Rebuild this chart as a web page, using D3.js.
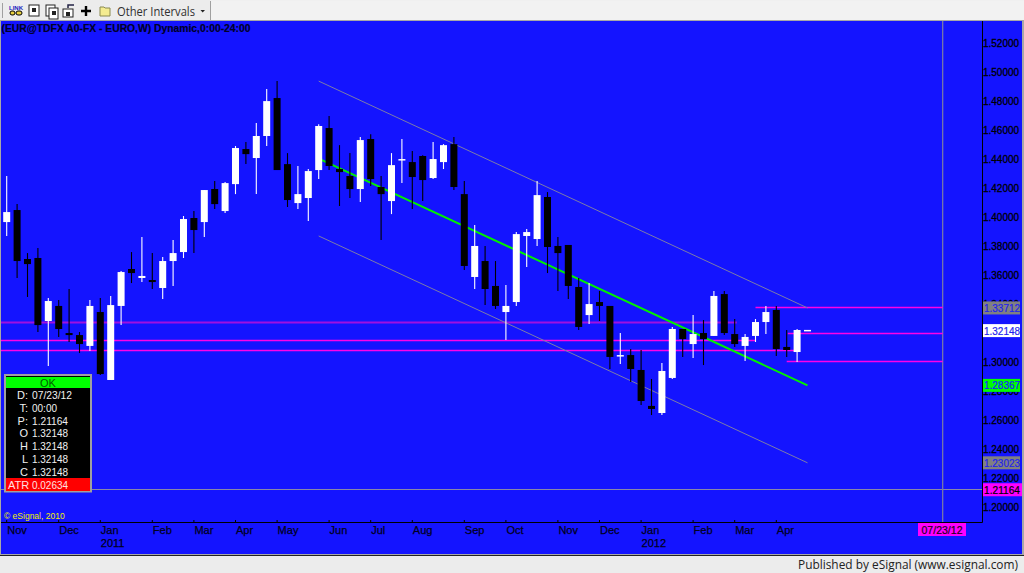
<!DOCTYPE html>
<html><head><meta charset="utf-8">
<script src="https://cdn.jsdelivr.net/npm/d3@7"></script>
<style>html,body{margin:0;padding:0;background:#f0f0f0;overflow:hidden}svg{display:block}text{font-family:"Liberation Sans",Arial,sans-serif}</style>
</head><body><svg id="c" width="1024" height="573"></svg>
<script>
// candle values, one entry per week
const opens=[1.3964,1.4047,1.3709,1.3716,1.3281,1.3385,1.3198,1.3184,1.3109,1.3343,1.2874,1.3385,1.3640,1.3578,1.3564,1.3509,1.3695,1.3757,1.3992,1.3964,1.4192,1.4040,1.4226,1.4468,1.4406,1.4558,1.4820,1.4364,1.4095,1.4130,1.4323,1.4613,1.4330,1.4282,1.4192,1.4537,1.4206,1.4109,1.4392,1.4378,1.4420,1.4268,1.4378,1.4502,1.4157,1.3585,1.3695,1.3523,1.3343,1.3412,1.3868,1.3847,1.4137,1.3799,1.3806,1.3516,1.3322,1.3412,1.3385,1.3040,1.3046,1.2943,1.2695,1.2646,1.2888,1.3226,1.3122,1.3198,1.3178,1.3467,1.3191,1.3109,1.3178,1.3274,1.3357,1.3102,1.3067,1.32148];
const highs=[1.4282,1.4088,1.3750,1.3785,1.3440,1.3426,1.3502,1.3205,1.3426,1.3440,1.3454,1.3626,1.3757,1.3861,1.3750,1.3723,1.3840,1.4006,1.4040,1.4185,1.4247,1.4240,1.4489,1.4516,1.4647,1.4882,1.4937,1.4440,1.4351,1.4330,1.4640,1.4696,1.4495,1.4440,1.4551,1.4571,1.4282,1.4440,1.4537,1.4454,1.4426,1.4516,1.4502,1.4551,1.4247,1.3943,1.3799,1.3695,1.3529,1.3895,1.3916,1.4247,1.4171,1.3861,1.3806,1.3578,1.3543,1.3488,1.3385,1.3198,1.3088,1.3081,1.2881,1.2991,1.3240,1.3226,1.3322,1.3288,1.3488,1.3488,1.3295,1.3191,1.3295,1.3385,1.3385,1.3219,1.3226,1.32148];
const lows=[1.3868,1.3578,1.3447,1.3205,1.2971,1.3171,1.3136,1.3060,1.3074,1.2908,1.2874,1.3253,1.3543,1.3550,1.3502,1.3433,1.3523,1.3716,1.3750,1.3861,1.4054,1.4026,1.4157,1.4364,1.4157,1.4489,1.4323,1.4068,1.4054,1.3971,1.4261,1.4323,1.4075,1.4130,1.4102,1.4213,1.3840,1.4019,1.4233,1.4054,1.4109,1.4261,1.4330,1.4185,1.3633,1.3502,1.3391,1.3364,1.3150,1.3385,1.3654,1.3799,1.3612,1.3488,1.3433,1.3219,1.3260,1.3281,1.2950,1.2984,1.2860,1.2701,1.2632,1.2632,1.2881,1.3033,1.3026,1.2977,1.3178,1.3184,1.3102,1.3005,1.3136,1.3191,1.3040,1.3033,1.2998,1.32148];
const closes=[1.4033,1.3695,1.3674,1.3253,1.3419,1.3226,1.3184,1.3122,1.3385,1.2915,1.3391,1.3619,1.3612,1.3592,1.3550,1.3695,1.3750,1.3985,1.3909,1.4185,1.4088,1.4233,1.4475,1.4433,1.4558,1.4799,1.4323,1.4116,1.4157,1.4316,1.4627,1.4351,1.4309,1.4192,1.4530,1.4261,1.4157,1.4357,1.4399,1.4275,1.4254,1.4399,1.4495,1.4206,1.3661,1.3799,1.3502,1.3385,1.3385,1.3881,1.3895,1.4150,1.3792,1.3750,1.3523,1.3240,1.3398,1.3385,1.3033,1.3046,1.2950,1.2729,1.2674,1.2936,1.3226,1.3157,1.3191,1.3157,1.3454,1.3198,1.3122,1.3171,1.3274,1.3343,1.3088,1.3081,1.3219,1.32148];
const monthLabels=["Nov","Dec","Jan","Feb","Mar","Apr","May","Jun","Jul","Aug","Sep","Oct","Nov","Dec","Jan","Feb","Mar","Apr"];
const monthIndex=[0,5,9,14,18,22,26,31,35,39,44,48,53,57,61,66,70,74];
const yearLabels=["2011","2012"];
const yearIndex=[9,61];
const priceTicks=[1.52,1.50,1.48,1.46,1.44,1.42,1.40,1.38,1.36,1.34,1.30,1.28,1.26,1.24,1.22,1.20];
// horizontal levels: price, first and last week index
const levelPrice=[1.3274,1.3145,1.3076,1.33712,1.3196,1.30];
const levelFrom=[-1,-1,-1,72,75.1,75];
const levelTo=[70.2,72,76,90,90,90];
const channelFrom=[30,77];
const channelUpper=[1.4937,1.33712];
const channelLower=[1.3868,1.23023];
const channelMid=[1.44025,1.28367];
const cursorPrice=1.21164, cursorIndex=90;
const infoKeys=["D:","T:","P:","O","H","L","C"];
const infoValues=["07/23/12","00:00","1.21164","1.32148","1.32148","1.32148","1.32148"];
const flagValues=["1.33712","1.32148","1.28367","1.23023","1.21164"];
const flagFills=["#808080","#ffffff","#00ff00","#808080","#ff00ff"];
const flagInk=["#2222ee","#2222ee","#1a1aff","#2222ee","#000000"];

const BLUE="#1414ff";
const svg=d3.select("#c");
const x=d3.scaleLinear().domain([0,77]).range([6.7,807.5]);
const y=d3.scaleLinear().domain([1.20,1.52]).range([506.6,43]);
const R=982,T=21,B=522;
const snap=v=>Math.floor(v)+.5;

// window chrome
svg.append("rect").attr("width",1024).attr("height",573).attr("fill","#f0f0f0");
svg.append("rect").attr("x",0).attr("y",20).attr("width",1024).attr("height",536).attr("fill","#a8a8a8");
svg.append("rect").attr("x",1).attr("y",21).attr("width",1021).attr("height",533).attr("fill",BLUE);
svg.append("rect").attr("x",0).attr("y",556).attr("width",1024).attr("height",17).attr("fill","#ececec");
svg.append("rect").attr("x",0).attr("y",555).attr("width",1024).attr("height",1).attr("fill","#222");
svg.append("rect").attr("x",0).attr("y",0).attr("width",210).attr("height",20).attr("fill","#ececec");
svg.append("rect").attr("x",210).attr("y",1).attr("width",1).attr("height",19).attr("fill","#a0a0a0");
svg.append("rect").attr("x",211).attr("y",1).attr("width",813).attr("height",19).attr("fill","#f2f2f2");
svg.append("rect").attr("x",2).attr("y",3).attr("width",1).attr("height",15).attr("fill","#a0a0a0");
// toolbar glyphs
const tb=svg.append("g");
tb.append("text").attr("x",9).attr("y",10).attr("font-size",6).attr("font-weight","bold").attr("fill","#2020c0").text("LINK");
tb.append("rect").attr("x",10).attr("y",11).attr("width",5).attr("height",4).attr("rx",2).attr("fill","#e8d040").attr("stroke","#000");
tb.append("rect").attr("x",16).attr("y",11).attr("width",6).attr("height",4).attr("rx",2).attr("fill","#e8d040").attr("stroke","#000");
[[29,5,10,11],[46,5,9,11],[49,8,9,11],[63,9,10,8]].forEach(d=>{
  tb.append("rect").attr("x",d[0]).attr("y",d[1]).attr("width",d[2]).attr("height",d[3]).attr("fill","#fff").attr("stroke","#222");
  tb.append("rect").attr("x",d[0]+3).attr("y",d[1]+3).attr("width",4).attr("height",4).attr("fill","#222");
});
tb.append("path").attr("d","M68 8V5H74").attr("fill","none").attr("stroke","#224").attr("stroke-width",1.5);
tb.append("path").attr("d","M86 6V16M81 11H91").attr("stroke","#000").attr("stroke-width",2.4);
tb.append("path").attr("d","M100 16V7H104L105 8H110V16Z").attr("fill","#f4ec90").attr("stroke","#8a8a50");
tb.append("text").attr("x",117).attr("y",15.5).attr("font-size",12.5).style("font-family","'Open Sans','Noto Sans',sans-serif").attr("fill","#303030").attr("textLength",78).attr("lengthAdjust","spacingAndGlyphs").text("Other Intervals");
tb.append("path").attr("d","M200.5 10H205L202.7 12.5Z").attr("fill","#222");

// title
svg.append("text").attr("x",1.5).attr("y",32).attr("font-size",11).attr("font-weight","bold").attr("fill","#000028").attr("stroke","#000028").attr("stroke-width",0.2).attr("textLength",249).attr("lengthAdjust","spacingAndGlyphs").text("(EUR@TDFX A0-FX - EURO,W) Dynamic,0:00-24:00");

// cursor cross-hair
svg.append("line").attr("x1",1).attr("x2",R).attr("y1",snap(y(cursorPrice))).attr("y2",snap(y(cursorPrice))).attr("stroke","#8888a8").attr("stroke-width",1);
svg.append("line").attr("x1",x(cursorIndex)).attr("x2",x(cursorIndex)).attr("y1",T).attr("y2",B).attr("stroke","#8080a0").attr("stroke-width",1.2);

// levels
levelPrice.forEach((p,i)=>{
  svg.append("line").attr("x1",Math.max(1,x(levelFrom[i]))).attr("x2",Math.min(R,x(levelTo[i]))).attr("y1",snap(y(p))).attr("y2",snap(y(p)))
    .attr("stroke",i===0?"#a010e0":"#ff00e8").attr("stroke-width",i===0?2:1.4);
});

// channel
const line=d3.line().x((d,i)=>x(channelFrom[i])).y(d=>y(d));
[channelUpper,channelLower].forEach(a=>svg.append("path").attr("d",line(a)).attr("fill","none").attr("stroke","#7c7ca8").attr("stroke-width",1));
svg.append("path").attr("d",line(channelMid)).attr("fill","none").attr("stroke","#00f000").attr("stroke-width",2);

// candles
const idx=d3.range(opens.length);
const bw=7;
const g=svg.append("g");
g.selectAll("line").data(idx.slice(0,-1)).join("line")
  .attr("x1",i=>x(i)).attr("x2",i=>x(i)).attr("y1",i=>y(highs[i])).attr("y2",i=>y(lows[i]))
  .attr("stroke",i=>closes[i]>=opens[i]?"#fff":"#000").attr("stroke-width",1.1);
g.selectAll("rect").data(idx.slice(0,-1)).join("rect")
  .attr("x",i=>x(i)-bw/2).attr("width",bw)
  .attr("y",i=>y(Math.max(opens[i],closes[i])))
  .attr("height",i=>Math.max(1.5,Math.abs(y(opens[i])-y(closes[i]))))
  .attr("fill",i=>closes[i]>=opens[i]?"#fff":"#000");
// the forming bar
const last=opens.length-1;
g.append("rect").attr("x",x(last)-3.5).attr("y",y(closes[last])-0.7).attr("width",7).attr("height",1.5).attr("fill","#fff");

// axes
const yAx=d3.axisRight(y).tickValues(priceTicks).tickSize(0).tickPadding(1).tickFormat(d3.format(".5f"));
const ya=svg.append("g").attr("transform",`translate(${R},0)`).call(yAx);
ya.select(".domain").remove();
ya.selectAll("text").attr("font-size",11).attr("fill","#000").attr("font-family",null).attr("textLength",36).attr("lengthAdjust","spacingAndGlyphs").attr("stroke","#000").attr("stroke-width",0.3);
svg.append("path").attr("d",`M${R+.5} ${T}V${B+.5}H1`).attr("fill","none").attr("stroke","#000");

const xAx=d3.axisBottom(x).tickValues(monthIndex).tickSize(0).tickPadding(0).tickFormat((d,i)=>monthLabels[i]);
const xa=svg.append("g").attr("transform",`translate(0,${B})`).call(xAx);
xa.select(".domain").remove();
xa.selectAll("text").attr("text-anchor","start").attr("dy",null).attr("y",12).attr("font-size",11).attr("fill","#000020").attr("stroke","#000020").attr("stroke-width",0.25).attr("font-family",null);
const xAy=d3.axisBottom(x).tickValues(yearIndex).tickSize(0).tickFormat((d,i)=>yearLabels[i]);
const xb=svg.append("g").attr("transform",`translate(0,${B})`).call(xAy);
xb.select(".domain").remove();
xb.selectAll("text").attr("text-anchor","start").attr("dy",null).attr("y",25).attr("font-size",11).attr("fill","#000020").attr("stroke","#000020").attr("stroke-width",0.25).attr("font-family",null);
monthIndex.forEach(i=>svg.append("line").attr("x1",x(i)).attr("x2",x(i)).attr("y1",B-2).attr("y2",B).attr("stroke","#000"));

// right-hand price flags
const flagY=[y(1.33712),y(1.32148),y(1.28367),y(1.23023),y(1.21164)];
flagValues.forEach((v,i)=>{
  svg.append("rect").attr("x",R+1).attr("y",flagY[i]-6.5).attr("width",i===4?39:37).attr("height",13).attr("fill",flagFills[i]);
  svg.append("text").attr("x",R+2).attr("y",flagY[i]+4).attr("font-size",11).attr("fill",flagInk[i]).attr("textLength",36).attr("lengthAdjust","spacingAndGlyphs").attr("stroke",flagInk[i]).attr("stroke-width",0.2).text(v);
});
// date flag
svg.append("rect").attr("x",918).attr("y",523).attr("width",48).attr("height",13).attr("fill","#ff00ff");
svg.append("text").attr("x",942).attr("y",533.5).attr("text-anchor","middle").attr("font-size",11).attr("fill","#200020").attr("stroke","#200020").attr("stroke-width",0.2).attr("textLength",41).attr("lengthAdjust","spacingAndGlyphs").text("07/23/12");

// cursor window
svg.append("rect").attr("x",5).attr("y",375).attr("width",86).attr("height",116.5).attr("fill","#000").attr("stroke","#a0a0a0").attr("stroke-width",2);
svg.append("rect").attr("x",6).attr("y",377).attr("width",84).attr("height",11).attr("fill","#00ff00");
svg.append("rect").attr("x",6).attr("y",478).attr("width",84).attr("height",13).attr("fill","#ff0000");
svg.append("text").attr("x",48).attr("y",386.5).attr("text-anchor","middle").attr("font-size",11).attr("fill","#006000").text("OK");
infoKeys.forEach((k,i)=>{
  const yy=399+i*12.8;
  svg.append("text").attr("x",28).attr("y",yy).attr("text-anchor","end").attr("font-size",11).attr("fill","#f0f0f0").text(k);
  svg.append("text").attr("x",32).attr("y",yy).attr("font-size",11).attr("fill","#f0f0f0").attr("textLength",k==="T:"?25:(k==="D:"?40:36)).attr("lengthAdjust","spacingAndGlyphs").text(infoValues[i]);
});
svg.append("text").attr("x",8).attr("y",489).attr("font-size",11).attr("fill","#ffe0e0").text("ATR");
svg.append("text").attr("x",32).attr("y",489).attr("font-size",11).attr("fill","#ffe0e0").attr("textLength",36).attr("lengthAdjust","spacingAndGlyphs").text("0.02634");

svg.append("text").attr("x",4).attr("y",519).attr("font-size",8.5).attr("fill","#f0f000").text("© eSignal, 2010");
svg.append("text").attr("x",1018).attr("y",568.5).attr("text-anchor","end").attr("font-size",12).style("font-family","'Open Sans','Noto Sans',sans-serif").attr("fill","#222").attr("textLength",220).attr("lengthAdjust","spacingAndGlyphs").text("Published by eSignal (www.esignal.com)");
</script></body></html>
